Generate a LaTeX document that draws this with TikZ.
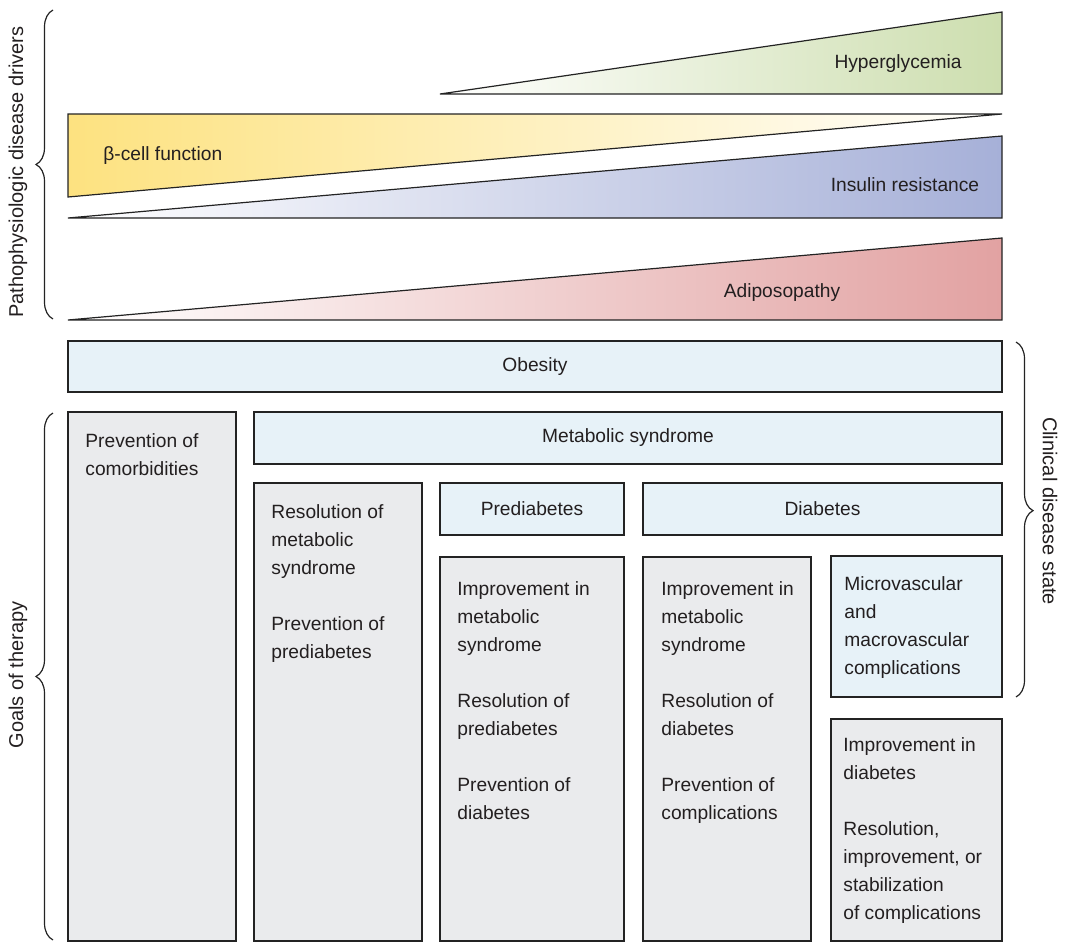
\documentclass[tikz,border=0pt]{standalone}
\usepackage{fontspec}
\setmainfont{Liberation Sans}
\usetikzlibrary{decorations.pathreplacing}

\definecolor{linegray}{RGB}{35,35,35}
\definecolor{textgray}{RGB}{35,31,32}
\definecolor{stateblue}{RGB}{231,242,248}
\definecolor{goalgray}{RGB}{234,235,237}
\definecolor{hypergreen}{RGB}{205,222,175}
\definecolor{betayellow}{RGB}{253,226,128}
\definecolor{insulinblue}{RGB}{166,176,216}
\definecolor{adipored}{RGB}{226,162,162}

\tikzset{
	edge/.style={line width=0.6pt, draw=linegray},
	statebox/.style={edge, fill=stateblue},
	goalbox/.style={edge, fill=goalgray},
	lbl/.style={font=\fontsize{9.6}{14}\selectfont, text=textgray, inner sep=0pt},
	goaltext/.style={lbl, align=left, anchor=north west},
	sidebrace/.style={decorate, decoration={brace, amplitude=8.5pt, aspect=#1}, line width=0.6pt, draw=linegray},
	sidebrace/.default=0.5,
	sidelabel/.style={font=\fontsize{10}{12}\selectfont, text=textgray, inner sep=0pt}
}

\begin{document}
\begin{tikzpicture}[x=0.5pt, y=-0.5pt]
		%%%%% START %%%%%
		\useasboundingbox (0, 0) rectangle (1078, 942);
		
		\shadedraw[edge, left color=white, right color=hypergreen] (440, 94) -- (1002, 12) -- (1002, 94) -- cycle;
		\node[lbl] (hyper) at (898, 64) {Hyperglycemia};
		
		\shadedraw[edge, left color=betayellow, right color=white] (68, 114) -- (1002, 114) -- (68, 197) -- cycle;
		\node[lbl, anchor=west] (beta) at (103, 156) {β-cell function};
		
		\shadedraw[edge, left color=white, right color=insulinblue] (68, 218) -- (1002, 136) -- (1002, 218) -- cycle;
		\node[lbl] (insulin) at (905, 185) {Insulin resistance};
		
		\shadedraw[edge, left color=white, right color=adipored] (68, 320) -- (1002, 238) -- (1002, 320) -- cycle;
		\node[lbl] (adipo) at (782, 293) {Adiposopathy};
		
		\draw[statebox] (68, 341) rectangle (1002, 392);
		\node[lbl] (obesity) at (535, 366.5) {Obesity};
		
		\draw[goalbox] (68, 412) rectangle (236, 941);
		\node[goaltext] (comorb) at (85, 433) {Prevention of\\comorbidities};
		
		\draw[statebox] (254, 412) rectangle (1002, 464);
		\node[lbl] (metsyn) at (628, 438) {Metabolic syndrome};
		
		\draw[goalbox] (254, 483) rectangle (422, 941);
		\node[goaltext] (resmet) at (271, 504) {Resolution of\\metabolic\\syndrome\\[14pt]Prevention of\\prediabetes};
		
		\draw[statebox] (440, 483) rectangle (624, 535);
		\node[lbl] (prediab) at (532, 509) {Prediabetes};
		
		\draw[goalbox] (440, 557) rectangle (624, 941);
		\node[goaltext] (imprpre) at (457, 581) {Improvement in\\metabolic\\syndrome\\[14pt]Resolution of\\prediabetes\\[14pt]Prevention of\\diabetes};
		
		\draw[statebox] (643, 483) rectangle (1002, 535);
		\node[lbl] (diab) at (822.5, 509) {Diabetes};
		
		\draw[goalbox] (643, 557) rectangle (811, 941);
		\node[goaltext] (imprdia) at (661, 581) {Improvement in\\metabolic\\syndrome\\[14pt]Resolution of\\diabetes\\[14pt]Prevention of\\complications};
		
		\draw[statebox] (831, 556) rectangle (1002, 697);
		\node[goaltext] (micro) at (844, 576) {Microvascular\\and\\macrovascular\\complications};
		
		\draw[goalbox] (831, 719) rectangle (1002, 941);
		\node[goaltext] (imprcomp) at (843, 737) {Improvement in\\diabetes\\[14pt]Resolution,\\improvement, or\\stabilization\\of complications};
		
		\draw[sidebrace] (53, 319) -- (53, 10);
		\node[sidelabel, rotate=90] (drivers) at (18, 172) {Pathophysiologic disease drivers};
		
		\draw[sidebrace] (53, 940) -- (53, 413);
		\node[sidelabel, rotate=90] (goals) at (18, 675) {Goals of therapy};
		
		\draw[sidebrace=0.475] (1016, 342) -- (1016, 697);
		\node[sidelabel, rotate=-90] (clinical) at (1050, 511) {Clinical disease state};
		
		%%%%% END %%%%%
\end{tikzpicture}
\end{document}
